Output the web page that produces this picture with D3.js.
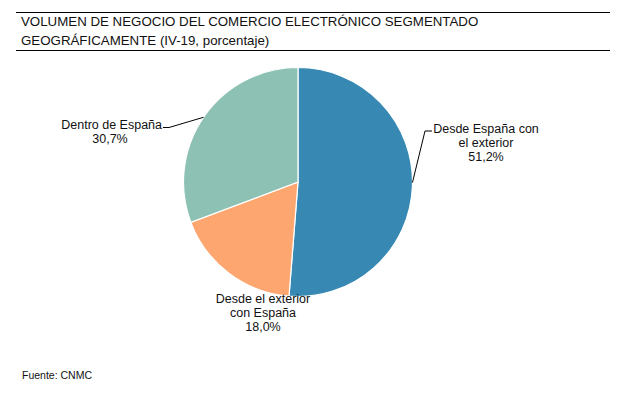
<!DOCTYPE html>
<html><head><meta charset="utf-8">
<script src="https://cdn.jsdelivr.net/npm/d3@7/dist/d3.min.js"></script>
<style>body{margin:0;background:#fff}svg{display:block;font-family:"Liberation Sans",Arial,sans-serif}</style>
</head><body><svg id="c" width="634" height="398"></svg>
<script>
const categories = ["Desde España con el exterior", "Desde el exterior con España", "Dentro de España"];
const values = [51.2, 18.0, 30.7];
const labelLines = [["Desde España con", "el exterior", "51,2%"], ["Desde el exterior", "con España", "18,0%"], ["Dentro de España", "30,7%"]];
const colors = ["#3789b3", "#fda66f", "#8dc1b3"];
const titleLines = ["VOLUMEN DE NEGOCIO DEL COMERCIO ELECTRÓNICO SEGMENTADO", "GEOGRÁFICAMENTE (IV-19, porcentaje)"];
const source = "Fuente: CNMC";

const svg = d3.select("#c");
svg.append("line").attr("x1",16).attr("x2",610).attr("y1",12.5).attr("y2",12.5).attr("stroke","#000").attr("stroke-width",1);
svg.append("line").attr("x1",16).attr("x2",610).attr("y1",50.5).attr("y2",50.5).attr("stroke","#000").attr("stroke-width",1);
svg.selectAll("text.title").data(titleLines).join("text").attr("class","title")
  .attr("x",21).attr("y",(d,i)=>25.5+i*19).attr("font-size",13.3).attr("fill","#111").text(d=>d);

const cx=298, cy=182, r=114.5;
const pie = d3.pie().sort(null).value(d=>d)(values);
const arc = d3.arc().innerRadius(0).outerRadius(r);
const g = svg.append("g").attr("transform",`translate(${cx},${cy})`);
g.selectAll("path").data(pie).join("path").attr("d",arc).attr("fill",(d,i)=>colors[i]).attr("stroke","#fff").attr("stroke-width",1.2);

// leader lines
function edge(a){return [cx+Math.sin(a)*r, cy-Math.cos(a)*r];}
const e0 = edge(Math.PI/2 - 0.03);
svg.append("polyline").attr("points",`${e0[0]},${e0[1]+4} 425,131 432,131`).attr("fill","none").attr("stroke","#000").attr("stroke-width",1);
const e2 = edge(2*Math.PI - 0.97);
svg.append("polyline").attr("points",`${e2[0]},${e2[1]} 169,127.5 163,127.5`).attr("fill","none").attr("stroke","#000").attr("stroke-width",1);

const lab = svg.append("g").attr("font-size",12.5).attr("fill","#111").attr("text-anchor","middle");
const pos = [[486,133],[263,303],[110,129]];
labelLines.forEach((lines,i)=>{
  lines.forEach((t,j)=>{
    let x=pos[i][0], anchor="middle";
    if(i===2 && j===0){x=162; anchor="end";}
    lab.append("text").attr("x",x).attr("y",pos[i][1]+j*14).attr("text-anchor",anchor).text(t);
  });
});
svg.append("text").attr("x",22).attr("y",379).attr("font-size",10.5).attr("fill","#111").text(source);
</script></body></html>
